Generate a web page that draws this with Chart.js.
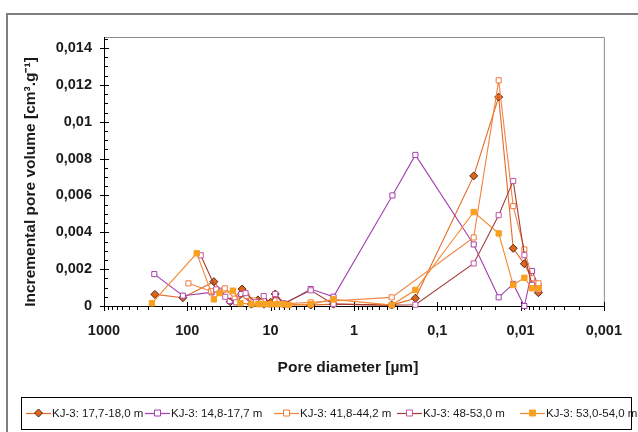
<!DOCTYPE html>
<html>
<head>
<meta charset="utf-8">
<script src="https://cdn.jsdelivr.net/npm/chart.js@4/dist/chart.umd.min.js"></script>
<style>
html,body{margin:0;padding:0;background:#fff;}
#wrap{width:638px;height:432px;position:relative;}
</style>
</head>
<body>
<div id="wrap"><canvas id="c" width="638" height="432"></canvas></div>
<script>
// Series names
const seriesNames = ["KJ-3: 17,7-18,0 m","KJ-3: 14,8-17,7 m","KJ-3: 41,8-44,2 m","KJ-3: 48-53,0 m","KJ-3: 53,0-54,0 m"];

// Pore diameters [µm] and incremental pore volumes [cm3/g]
const s1Diam = [245, 113, 48, 30.5, 22, 17, 14.2, 12, 10, 8.8, 6.9, 3.3, 1.76, 0.352, 0.183, 0.0365, 0.0183, 0.01225, 0.009, 0.0061];
const s1Vol  = [0.00063, 0.00045, 0.00132, 0.00023, 0.00092, 0.0001, 0.00033, 0.0001, 0.0002, 0.00065, 0.0001, 0.00005, 0.0001, 0.00005, 0.00042, 0.00706, 0.01134, 0.00313, 0.00229, 0.00072];

const s2Diam = [249, 113, 51, 41, 31, 22.5, 17, 14, 12, 10, 8.8, 6.9, 3.3, 1.76, 0.345, 0.183, 0.0365, 0.0183, 0.01225, 0.009, 0.00728, 0.0061];
const s2Vol  = [0.00173, 0.00056, 0.00074, 0.00083, 0.00027, 0.00065, 0.0001, 0.0002, 0.0003, 0.0001, 0.0006, 0.0001, 0.00092, 0.0005, 0.0060, 0.0082, 0.00334, 0.00047, 0.0012, 0, 0.0019, 0.0011];

const s3Diam = [97, 52, 35.5, 27, 19.4, 16, 13, 11, 9, 7.5, 3.3, 0.352, 0.0365, 0.0183, 0.01225, 0.009, 0.00728, 0.0061];
const s3Vol  = [0.00123, 0.0008, 0.00096, 0.0004, 0.00054, 0.0003, 0.0002, 0.0001, 0.0003, 0.0001, 0.0002, 0.00047, 0.00372, 0.01225, 0.00542, 0.00307, 0.0015, 0.00123];

const s4Diam = [69, 45, 35, 26, 20, 15, 12.1, 10, 8.8, 6.9, 3.3, 1.76, 0.352, 0.183, 0.0365, 0.0183, 0.01225, 0.009, 0.00728, 0.0061];
const s4Vol  = [0.00275, 0.0009, 0.0005, 0.0002, 0.0007, 0.0002, 0.00054, 0.0001, 0.00065, 0.00015, 0.00085, 0.0001, 0.00005, 0.00007, 0.00231, 0.00493, 0.00679, 0.00276, 0.00114, 0.0009];

const s5Diam = [266, 77, 48, 41, 28.3, 23, 17, 14, 12, 10, 8.5, 7, 6, 3.3, 1.76, 0.352, 0.183, 0.0365, 0.0183, 0.01225, 0.009, 0.00728, 0.0061];
const s5Vol  = [0.00015, 0.00286, 0.00036, 0.0007, 0.00083, 0.00015, 0.0001, 0.0001, 0.0001, 0.0001, 0.0001, 0.0001, 0.00005, 0.0001, 0.00036, 0.00005, 0.00087, 0.0051, 0.00394, 0.00114, 0.00153, 0.00096, 0.00096];

// Axis ticks
const xTickValues = [1000, 100, 10, 1, 0.1, 0.01, 0.001];
const xTickLabels = ["1000", "100", "10", "1", "0,1", "0,01", "0,001"];
const yTickValues = [0, 0.002, 0.004, 0.006, 0.008, 0.01, 0.012, 0.014];
const yTickLabels = ["0", "0,002", "0,004", "0,006", "0,008", "0,01", "0,012", "0,014"];

const styles = [
  {line:'#E56A26', pt:'rectRot', fill:'#E0641C', stroke:'#4E2A12', r:4},
  {line:'#A23FAE', pt:'rect', fill:'#ffffff', stroke:'#A23FAE', r:3.6},
  {line:'#F28444', pt:'rect', fill:'#ffffff', stroke:'#F07A3A', r:3.6},
  {line:'#A43C36', pt:'rect', fill:'#ffffff', stroke:'#C256A4', r:3.6},
  {line:'#F4882E', pt:'rect', fill:'#F8A020', stroke:'#F8A020', r:3.8}
];

function pts(d, v){ return d.map((x,i)=>({x:x, y:v[i]})); }
const allD = [s1Diam, s2Diam, s3Diam, s4Diam, s5Diam];
const allV = [s1Vol, s2Vol, s3Vol, s4Vol, s5Vol];

const datasets = allD.map((d,i)=>({
  label: seriesNames[i],
  data: pts(d, allV[i]),
  showLine: true,
  borderColor: styles[i].line,
  borderWidth: 1.1,
  pointStyle: styles[i].pt,
  pointRadius: styles[i].r,
  pointBackgroundColor: styles[i].fill,
  pointBorderColor: styles[i].stroke,
  pointBorderWidth: 1,
  clip: false,
  order: 5 - i
}));

const FONT = '"Liberation Sans", Arial, sans-serif';

const decor = {
  id: 'decor',
  beforeDraw(chart){
    const ctx = chart.ctx;
    ctx.save();
    ctx.fillStyle = '#fff';
    ctx.fillRect(0,0,chart.width,chart.height);
    ctx.strokeStyle = '#7f7f7f';
    ctx.lineWidth = 2;
    ctx.strokeRect(7, 14, 640, 430);
    ctx.restore();
  },
  beforeDatasetsDraw(chart){
    const ctx = chart.ctx, a = chart.chartArea;
    const xs = chart.scales.x, ys = chart.scales.y;
    ctx.save();
    ctx.strokeStyle = '#8c8c8c';
    ctx.lineWidth = 1;
    ctx.beginPath();
    ctx.moveTo(a.left, a.top + 0.5); ctx.lineTo(a.right + 0.5, a.top + 0.5); ctx.lineTo(a.right + 0.5, a.bottom);
    ctx.stroke();
    ctx.strokeStyle = '#000';
    ctx.beginPath();
    ctx.moveTo(a.left + 0.5, a.top); ctx.lineTo(a.left + 0.5, a.bottom + 0.5); ctx.lineTo(a.right, a.bottom + 0.5);
    ctx.stroke();
    ctx.beginPath();
    for (let k = 0; k * 0.0005 <= 0.01461; k++) {
      const v = k * 0.0005;
      const y = Math.round(ys.getPixelForValue(v)) + 0.5;
      if (k % 4 === 0) { ctx.moveTo(a.left - 4, y); ctx.lineTo(a.left + 5, y); }
      else { ctx.moveTo(a.left, y); ctx.lineTo(a.left + 4, y); }
    }
    for (let e = -3; e < 3; e++) {
      for (let m = 1; m <= 9; m++) {
        const val = m * Math.pow(10, e);
        const x = Math.round(xs.getPixelForValue(val)) + 0.5;
        if (m === 1) { ctx.moveTo(x, a.bottom - 4); ctx.lineTo(x, a.bottom + 5); }
        else { ctx.moveTo(x, a.bottom); ctx.lineTo(x, a.bottom + 4); }
      }
    }
    const x1000 = Math.round(xs.getPixelForValue(1000)) + 0.5;
    ctx.moveTo(x1000, a.bottom - 4); ctx.lineTo(x1000, a.bottom + 5);
    ctx.stroke();
    ctx.restore();
  },
  afterDraw(chart){
    const ctx = chart.ctx, a = chart.chartArea;
    ctx.save();
    ctx.fillStyle = '#1a1a1a';
    ctx.font = 'bold 15.5px ' + FONT;
    ctx.textAlign = 'center';
    ctx.textBaseline = 'middle';
    ctx.fillText('Pore diameter [µm]', (a.left + a.right)/2 - 6, 368);
    ctx.translate(31, 182);
    ctx.rotate(-Math.PI/2);
    ctx.fillText('Incremental pore volume [cm³.g⁻¹]', 0, 0);
    ctx.restore();

    ctx.save();
    const lx = 21, ly = 397, lw = 610, lh = 32;
    ctx.fillStyle = '#fff';
    ctx.fillRect(lx, ly, lw, lh);
    ctx.strokeStyle = '#000';
    ctx.lineWidth = 1;
    ctx.strokeRect(lx + 0.5, ly + 0.5, lw, lh);
    const items = [26, 145, 274, 397, 520];
    const cy = ly + lh/2;
    ctx.font = '11.5px ' + FONT;
    ctx.textBaseline = 'middle';
    ctx.textAlign = 'left';
    items.forEach((x0, i) => {
      const st = styles[i];
      ctx.strokeStyle = st.line;
      ctx.lineWidth = 1.2;
      ctx.beginPath(); ctx.moveTo(x0, cy + 0.5); ctx.lineTo(x0 + 25, cy + 0.5); ctx.stroke();
      const mx = x0 + 12.5;
      ctx.lineWidth = 1;
      ctx.fillStyle = st.fill; ctx.strokeStyle = st.stroke;
      ctx.beginPath();
      if (st.pt === 'rectRot') {
        ctx.moveTo(mx, cy - 4); ctx.lineTo(mx + 4, cy); ctx.lineTo(mx, cy + 4); ctx.lineTo(mx - 4, cy); ctx.closePath();
      } else {
        ctx.rect(mx - 3, cy - 3, 6, 6);
      }
      ctx.fill(); ctx.stroke();
      ctx.fillStyle = '#1a1a1a';
      ctx.fillText(seriesNames[i], x0 + 26, cy + 1);
    });
    ctx.restore();
  }
};

new Chart(document.getElementById('c'), {
  type: 'scatter',
  data: { datasets },
  options: {
    responsive: false,
    animation: false,
    layout: { padding: { top: 37, right: 20, left: 0, bottom: 0 } },
    plugins: { legend: { display: false }, tooltip: { enabled: false } },
    scales: {
      x: {
        type: 'logarithmic',
        reverse: true,
        min: 0.001, max: 1000,
        grid: { display: false, drawTicks: false },
        border: { display: false },
        afterFit(s){ s.height = 126; },
        afterBuildTicks(s){ s.ticks = xTickValues.map(v => ({value: v})); },
        ticks: {
          padding: 16,
          autoSkip: false,
          maxRotation: 0,
          color: '#1a1a1a',
          font: { family: FONT, size: 14.5, weight: 'bold' },
          callback(v){ const i = xTickValues.findIndex(t => Math.abs(Math.log10(t) - Math.log10(v)) < 1e-6); return i >= 0 ? xTickLabels[i] : ''; }
        }
      },
      y: {
        type: 'linear',
        min: 0, max: 0.0146,
        grid: { display: false, drawTicks: false },
        border: { display: false },
        afterFit(s){ s.width = 104; },
        afterBuildTicks(s){ s.ticks = yTickValues.map(v => ({value: v})); },
        ticks: {
          padding: 12,
          color: '#1a1a1a',
          font: { family: FONT, size: 14.5, weight: 'bold' },
          callback(v){ const i = yTickValues.findIndex(t => Math.abs(t - v) < 1e-9); return i >= 0 ? yTickLabels[i] : ''; }
        }
      }
    }
  },
  plugins: [decor]
});
</script>
</body>
</html>
